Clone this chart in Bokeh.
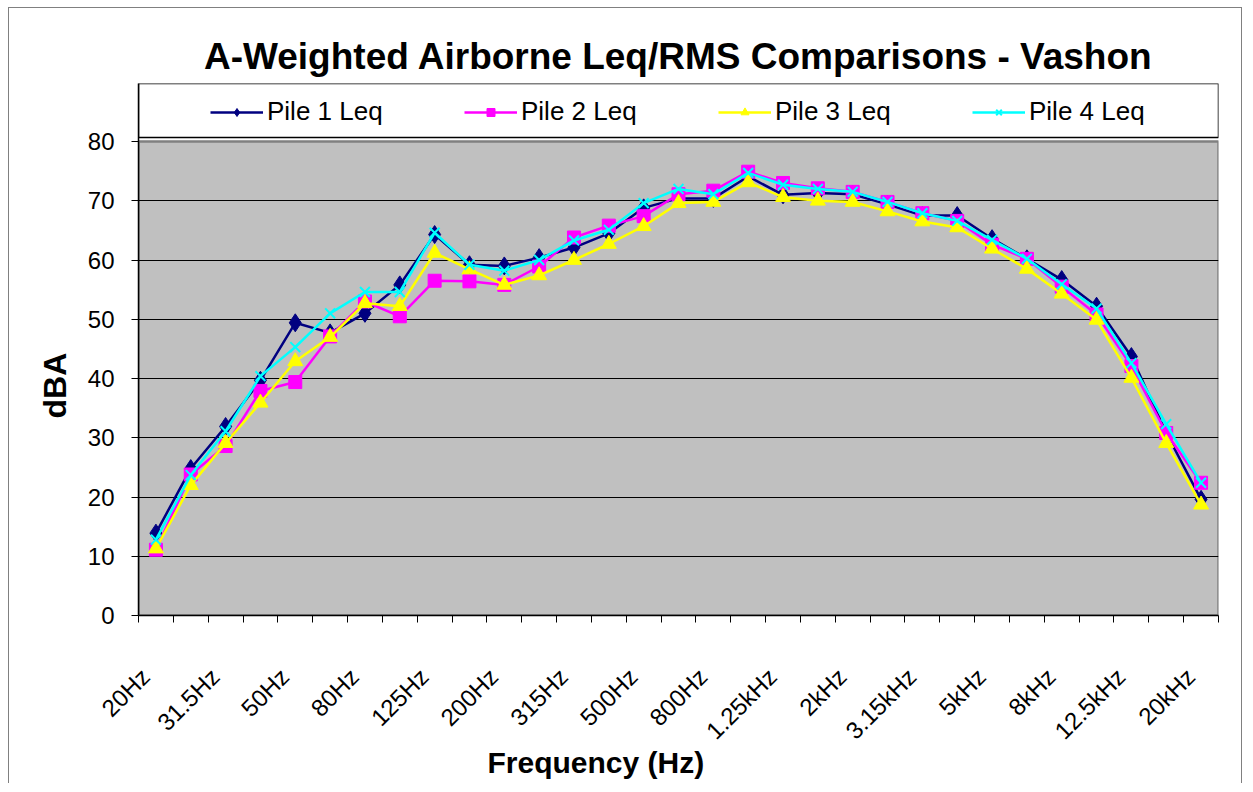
import math
from bokeh.plotting import figure
from bokeh.models import Range1d, FixedTicker, Legend, LegendItem, Title
from bokeh.embed import file_html
from bokeh.resources import INLINE

# ---- data ----
bands = ["20Hz", "25Hz", "31.5Hz", "40Hz", "50Hz", "63Hz", "80Hz", "100Hz", "125Hz", "160Hz",
         "200Hz", "250Hz", "315Hz", "400Hz", "500Hz", "630Hz", "800Hz", "1kHz", "1.25kHz", "1.6kHz",
         "2kHz", "2.5kHz", "3.15kHz", "4kHz", "5kHz", "6.3kHz", "8kHz", "10kHz", "12.5kHz", "16kHz", "20kHz"]

pile1 = [13.9, 24.8, 31.9, 39.7, 49.4, 47.7, 51.0, 55.8, 64.3, 59.2, 59.0, 60.4, 62.1, 64.5, 68.8, 70.4,
         70.4, 74.1, 71.0, 71.3, 71.1, 69.4, 67.5, 67.5, 63.6, 60.2, 56.7, 52.2, 43.7, 30.8, 19.6]
pile2 = [11.1, 23.8, 28.6, 37.9, 39.4, 47.1, 53.0, 50.5, 56.5, 56.4, 55.8, 58.9, 63.8, 65.8, 67.4, 71.1,
         71.7, 74.9, 73.0, 72.1, 71.5, 69.8, 67.9, 66.6, 62.6, 60.2, 55.5, 50.8, 42.1, 30.8, 22.4]
pile3 = [11.3, 22.0, 29.1, 35.9, 42.9, 47.0, 52.7, 52.2, 61.2, 58.4, 55.8, 57.4, 60.0, 62.7, 65.7, 69.6,
         69.8, 73.1, 70.6, 70.0, 69.8, 68.2, 66.5, 65.5, 61.9, 58.5, 54.3, 49.9, 40.1, 29.1, 18.7]
pile4 = [12.8, 23.7, 31.1, 40.4, 45.3, 51.0, 54.6, 54.6, 64.6, 59.2, 58.2, 60.0, 63.3, 65.1, 69.6, 72.0,
         71.1, 74.7, 72.7, 72.0, 71.5, 69.8, 67.9, 66.6, 63.4, 60.2, 55.9, 51.8, 42.6, 32.3, 22.4]

series_names = ["Pile 1 Leq", "Pile 2 Leq", "Pile 3 Leq", "Pile 4 Leq"]
y_ticks = [0, 10, 20, 30, 40, 50, 60, 70, 80]

# ---- styling ----
FONT = "Liberation Sans"
colors = ["#000080", "#FF00FF", "#FFFF00", "#00FFFF"]
markers = ["diamond", "square", "triangle", "x"]
msizes = [18, 13, 15, 14]
LABEL_SHIFT = 0.3   # Excel-style rotated labels sit slightly left of the category centre

n = len(bands)
xs = list(range(n))
Y_MAX = 80
y_top = Y_MAX * 532 / 474   # frame also holds the legend box above the plot area

p = figure(width=1234, height=776,
           x_range=Range1d(-0.5, n - 0.5), y_range=Range1d(0, y_top),
           output_backend="svg", toolbar_location=None,
           min_border_left=129, min_border_right=25, min_border_top=75, min_border_bottom=169,
           title="A-Weighted Airborne Leq/RMS Comparisons - Vashon")
p.styles = {"margin-left": "8px", "margin-top": "7px",
            "border-left": "1px solid #808080", "border-top": "1px solid #808080",
            "border-right": "1px solid #808080"}
p.outline_line_color = None
p.background_fill_color = "white"
p.border_fill_color = "white"

p.title.text_font = FONT
p.title.text_font_size = "37px"
p.title.text_font_style = "bold"
p.title.text_color = "black"
p.title.align = "center"
p.title.standoff = 13

# plot area (gray) and legend box
p.quad(left=[-0.5], right=[n - 0.5], bottom=[0], top=[Y_MAX], fill_color="#C0C0C0",
       line_color="#808080", line_width=2.5, level="image")
p.quad(left=[-0.5], right=[n - 0.5], bottom=[Y_MAX + 4 / 5.925], top=[y_top], fill_color="white",
       line_color="black", line_width=1.5, level="image")

# axes
p.xgrid.visible = False
p.ygrid.ticker = FixedTicker(ticks=y_ticks[1:-1])
p.ygrid.grid_line_color = "black"
p.ygrid.grid_line_width = 1

label_pos = [i - LABEL_SHIFT for i in xs[::2]]
xa = p.xaxis[0]
xa.ticker = FixedTicker(ticks=label_pos, minor_ticks=[i - 0.5 for i in range(n + 1)])
xa.major_label_overrides = {pos: bands[i] for pos, i in zip(label_pos, xs[::2])}
xa.major_tick_out = 0
xa.major_tick_in = 0
xa.minor_tick_out = 7
xa.minor_tick_in = 0
xa.minor_tick_line_color = "black"
xa.axis_line_color = "black"
xa.axis_line_width = 1.5
xa.major_label_orientation = math.pi / 4
xa.major_label_text_font = FONT
xa.major_label_text_font_size = "24px"
xa.major_label_text_color = "black"
xa.major_label_standoff = 50

ya = p.yaxis[0]
ya.ticker = FixedTicker(ticks=y_ticks)
ya.major_tick_out = 7
ya.major_tick_in = 0
ya.minor_tick_out = 0
ya.minor_tick_in = 0
ya.major_tick_line_color = "black"
ya.axis_line_color = "black"
ya.axis_line_width = 1.5
ya.major_label_text_font = FONT
ya.major_label_text_font_size = "24px"
ya.major_label_text_color = "black"
ya.major_label_standoff = 17

# axis titles
p.add_layout(Title(text="Frequency (Hz)", align="left", offset=349, text_font=FONT,
                   text_font_size="30px", text_font_style="bold", text_color="black",
                   standoff=-25), "below")
p.add_layout(Title(text="dBA", align="left", offset=197, text_font=FONT,
                   text_font_size="32px", text_font_style="bold", text_color="black",
                   standoff=24), "left")

# series
items = []
for name, vals, c, m, s in zip(series_names, [pile1, pile2, pile3, pile4], colors, markers, msizes):
    r1 = p.line(xs, vals, line_color=c, line_width=2.5)
    if m == "x":
        r2 = p.scatter(xs, vals, marker=m, size=s, line_color=c, line_width=2)
    else:
        r2 = p.scatter(xs, vals, marker=m, size=s, fill_color=c, line_color=c)
    items.append(LegendItem(label=name, renderers=[r1, r2]))

legend = Legend(items=items, orientation="horizontal", location=(72, 488),
                glyph_width=53, glyph_height=20, label_standoff=4, label_width=190, spacing=7,
                padding=0, margin=0, border_line_color=None, background_fill_alpha=0,
                label_text_font=FONT, label_text_font_size="26px", label_text_color="black")
p.add_layout(legend, "center")

open("out.html", "w").write(file_html(p, INLINE))
